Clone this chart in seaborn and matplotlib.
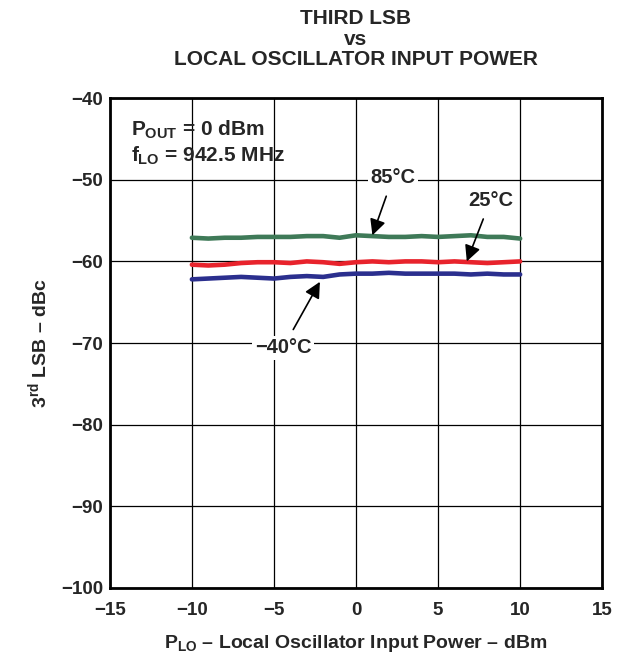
import matplotlib
matplotlib.use("Agg")
import matplotlib.pyplot as plt
import pandas as pd
import seaborn as sns

# data
p_lo = list(range(-10, 11))
t85 = [-57.1, -57.2, -57.1, -57.1, -57.0, -57.0, -57.0, -56.9, -56.9, -57.1, -56.8,
       -56.9, -57.0, -57.0, -56.9, -57.0, -56.9, -56.8, -57.0, -57.0, -57.2]
t25 = [-60.4, -60.5, -60.4, -60.2, -60.1, -60.1, -60.2, -60.0, -60.1, -60.3, -60.1,
       -60.0, -60.1, -60.0, -60.0, -60.1, -60.0, -60.1, -60.2, -60.1, -60.0]
tm40 = [-62.2, -62.1, -62.0, -61.9, -62.0, -62.1, -61.9, -61.8, -61.9, -61.6, -61.5,
        -61.5, -61.4, -61.5, -61.5, -61.5, -61.5, -61.6, -61.5, -61.6, -61.6]

df = pd.DataFrame({
    "plo": p_lo * 3,
    "lsb": t85 + t25 + tm40,
    "temp": ["85"] * 21 + ["25"] * 21 + ["-40"] * 21,
})
colors = {"85": "#3f7a58", "25": "#e8232c", "-40": "#2b2f8e"}

sns.set_style("white")
plt.rcParams['font.family'] = ['Liberation Sans', 'DejaVu Sans']
plt.rcParams['font.weight'] = 'bold'
plt.rcParams['mathtext.fontset'] = 'custom'
plt.rcParams['mathtext.rm'] = 'Liberation Sans:bold'
plt.rcParams['mathtext.it'] = 'Liberation Sans:bold'
plt.rcParams['mathtext.bf'] = 'Liberation Sans:bold'

fig = plt.figure(figsize=(6.17, 6.59), dpi=100)
ax = fig.add_axes([0.178, 0.108, 0.798, 0.743])

sns.lineplot(data=df, x="plo", y="lsb", hue="temp", palette=colors, linewidth=3.3,
             legend=False, ax=ax)

ax.set_xlim(-15, 15)
ax.set_ylim(-100, -40)
ax.set_xticks(range(-15, 16, 5))
ax.set_yticks(range(-100, -39, 10))
ax.set_xticklabels(["\u221215", "\u221210", "\u22125", "0", "5", "10", "15"])
ax.set_yticklabels(["\u2212100", "\u221290", "\u221280", "\u221270", "\u221260", "\u221250", "\u221240"])
ax.tick_params(length=0, labelsize=13.5)
ax.tick_params(axis='x', pad=10)
ax.tick_params(axis='y', pad=5)
for lbl in ax.get_xticklabels() + ax.get_yticklabels():
    lbl.set_fontweight('bold')
ax.grid(True, color='black', linewidth=0.9)
for s in ax.spines.values():
    s.set_color('black')
    s.set_linewidth(2)

ax.set_xlabel("$P_{LO}$ \u2013 Local Oscillator Input Power \u2013 dBm",
              fontsize=14, fontweight='bold', labelpad=10)
ax.set_ylabel("3$^{rd}$ LSB \u2013 dBc", fontsize=14, fontweight='bold', labelpad=8)
ax.set_title("THIRD LSB\nvs\nLOCAL OSCILLATOR INPUT POWER", fontsize=15,
             fontweight='bold', linespacing=1.08, pad=24)

ax.text(-13.7, -43.9, "$P_{OUT}$ = 0 dBm", fontsize=15, fontweight='bold', va='center')
ax.text(-13.7, -47.1, "$f_{LO}$ = 942.5 MHz", fontsize=15, fontweight='bold', va='center')

arrow = dict(arrowstyle='-|>', color='black', lw=1.2, mutation_scale=24, shrinkA=5, shrinkB=0)
box = dict(facecolor='white', edgecolor='none', pad=2)
ax.annotate("85\u00b0C", xy=(1.0, -56.8), xytext=(2.25, -49.7), fontsize=14.5,
            fontweight='bold', ha='center', va='center', arrowprops=arrow, bbox=box)
ax.annotate("25\u00b0C", xy=(6.75, -60.0), xytext=(8.2, -52.5), fontsize=14.5,
            fontweight='bold', ha='center', va='center', arrowprops=arrow, bbox=box)
ax.annotate("\u221240\u00b0C", xy=(-2.2, -62.5), xytext=(-4.45, -70.6), fontsize=14.5,
            fontweight='bold', ha='center', va='center', arrowprops=arrow, bbox=box)

fig.savefig("out.png", dpi=100)
